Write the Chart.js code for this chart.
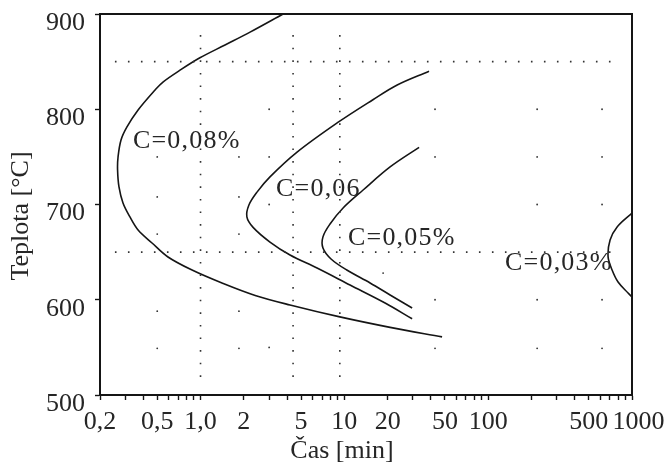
<!DOCTYPE html>
<html>
<head>
<meta charset="utf-8">
<script src="https://cdn.jsdelivr.net/npm/chart.js@4.4.1/dist/chart.umd.min.js"></script>
<style>
  html, body { margin: 0; padding: 0; background: #fff; }
  #c { display: block; }
</style>
</head>
<body>
<canvas id="c" width="670" height="464"></canvas>
<script>
// Time axis [min] (logarithmic) and temperature axis [°C]
const timeTicks = [0.2, 0.5, 1, 2, 5, 10, 20, 50, 100, 500, 1000];
const timeTickLabels = ['0,2', '0,5', '1,0', '2', '5', '10', '20', '50', '100', '500', '\u20021000'];
const tempTicks = [500, 600, 700, 800, 900];

// Transformation start curves for different carbon contents
const c008Time = [3.75, 2.21, 1.48, 0.99, 0.72, 0.548, 0.483, 0.368, 0.308, 0.28, 0.267, 0.265, 0.271, 0.289, 0.323, 0.368, 0.46, 0.594, 0.873, 1.41, 2.4, 4.19, 9.3, 20.8, 47.8];
const c008Temp = [900, 881, 867.5, 854, 841, 828.6, 820.2, 799.2, 781.4, 767.7, 749.9, 736.2, 718.4, 701.6, 686.9, 673.2, 659.6, 644.9, 631.2, 617.6, 604.5, 594.5, 582, 571, 561];

const c006Time = [38.8, 23.3, 15.8, 8.9, 4.69, 3.04, 2.47, 2.17, 2.1, 2.32, 3.04, 4.19, 6.46, 10.95, 19.2, 29.6];
const c006Temp = [840, 825.5, 810, 785.6, 755, 729, 713, 699.5, 687, 676, 660.6, 647, 633.3, 615.5, 596.6, 580];

const c005Time = [33.1, 20.8, 13.5, 9.8, 7.95, 7.1, 7.1, 8.08, 10.4, 15.1, 20.8, 29.6];
const c005Temp = [760, 739.4, 715.2, 696.3, 679.5, 666, 654.3, 642.8, 631.2, 617.6, 605, 591.3];

const c003Time = [1000, 788, 704, 682, 727, 800, 939, 1000];
const c003Temp = [691, 676.4, 662.7, 645, 631.2, 618.6, 607.1, 603];

// Curve captions (text, anchor time, anchor temperature)
const curveLabels = ['C=0,08%', 'C=0,06', 'C=0,05%', 'C=0,03%'];
const labelTimes = [0.339, 3.35, 10.6, 131];
const labelTemps = [759, 709, 657.5, 631];

// Dotted guide lines
const guideTimes = [1, 4.4, 9.3];
const guideTimeSpan = [519, 883];
const guideTemps = [850, 650];
const guideTempSpan = [0.254, 788];

// Loose grid dots
const dotTimes = [3, 42.7, 219, 619, 0.5, 1.85, 3, 42.7, 219, 619, 0.5, 1.85, 3, 219, 619, 0.5, 1.85, 18.6, 42.7, 219, 619, 0.5, 1.85, 0.5, 1.85, 3, 42.7, 219, 619];
const dotTemps = [800, 800, 800, 800, 750, 750, 750, 750, 750, 750, 708, 708, 700, 700, 700, 669, 669, 628, 600, 600, 600, 588, 588, 549, 549, 550, 549, 549, 549];

const SERIF = '"Liberation Serif", "Times New Roman", serif';
const TEXT = '#262626';
const INK = '#151515';

const toXY = (xs, ys) => xs.map((x, i) => ({ x, y: ys[i] }));

function curve(xs, ys) {
  return {
    data: toXY(xs, ys),
    showLine: true,
    borderColor: INK,
    borderWidth: 1.6,
    pointRadius: 0,
    tension: 0.35,
    fill: false
  };
}

const datasets = [];
guideTimes.forEach(t => datasets.push({
  data: toXY([t, t], guideTimeSpan),
  showLine: true, borderColor: '#333', borderWidth: 1.6,
  borderDash: [1.6, 11], pointRadius: 0, tension: 0
}));
guideTemps.forEach(v => datasets.push({
  data: toXY(guideTempSpan, [v, v]),
  showLine: true, borderColor: '#333', borderWidth: 1.6,
  borderDash: [1.6, 11.4], pointRadius: 0, tension: 0
}));
datasets.push({
  data: toXY(dotTimes, dotTemps),
  showLine: false, pointRadius: 0.9, pointBorderWidth: 0,
  pointBackgroundColor: '#333', backgroundColor: '#333'
});
datasets.push(curve(c008Time, c008Temp));
datasets.push(curve(c006Time, c006Temp));
datasets.push(curve(c005Time, c005Temp));
datasets.push(curve(c003Time, c003Temp));

// Minor + major tick positions on the log axis
const logTickValues = [];
for (let e = -1; e <= 3; e++) {
  for (let m = 1; m <= 9; m++) {
    const v = +(m * Math.pow(10, e)).toPrecision(6);
    if (v >= 0.2 - 1e-9 && v <= 1000 + 1e-9) logTickValues.push(v);
  }
}

const isLabelled = v => timeTicks.findIndex(t => Math.abs(v - t) / t < 1e-6);

const framePlugin = {
  id: 'frameAndText',
  afterDatasetsDraw(chart) {
    const { ctx, chartArea: a, scales } = chart;
    ctx.save();
    // top and right frame edges
    ctx.strokeStyle = INK;
    ctx.lineWidth = 2;
    ctx.beginPath();
    ctx.moveTo(a.left, a.top);
    ctx.lineTo(a.right, a.top);
    ctx.lineTo(a.right, a.bottom);
    ctx.stroke();

    // curve captions
    ctx.fillStyle = TEXT;
    ctx.font = '26px ' + SERIF;
    ctx.textAlign = 'left';
    ctx.textBaseline = 'alphabetic';
    if ('letterSpacing' in ctx) ctx.letterSpacing = '1.2px';
    curveLabels.forEach((txt, i) => {
      ctx.fillText(txt, scales.x.getPixelForValue(labelTimes[i]), scales.y.getPixelForValue(labelTemps[i]));
    });
    if ('letterSpacing' in ctx) ctx.letterSpacing = '0px';

    // axis titles
    ctx.textAlign = 'center';
    ctx.textBaseline = 'middle';
    ctx.fillText('Čas [min]', a.left + 242, a.bottom + 56);
    ctx.translate(a.left - 79, a.top + 202);
    ctx.rotate(-Math.PI / 2);
    ctx.fillText('Teplota [°C]', 0, 0);
    ctx.restore();
  }
};

new Chart(document.getElementById('c'), {
  type: 'scatter',
  data: { datasets },
  plugins: [framePlugin],
  options: {
    responsive: false,
    animation: false,
    devicePixelRatio: 1,
    layout: { padding: { left: 0, right: 38, top: 14, bottom: 0 } },
    plugins: { legend: { display: false }, tooltip: { enabled: false } },
    scales: {
      x: {
        type: 'logarithmic',
        min: 0.2,
        max: 1000,
        afterBuildTicks: s => { s.ticks = logTickValues.map(v => ({ value: v })); },
        afterFit: s => { s.height = 69; s.paddingLeft = 0; s.paddingRight = 0; },
        ticks: {
          autoSkip: false,
          maxRotation: 0,
          minRotation: 0,
          padding: 7,
          color: TEXT,
          font: { family: SERIF, size: 26 },
          callback: v => { const i = isLabelled(v); return i >= 0 ? timeTickLabels[i] : ''; }
        },
        grid: { drawOnChartArea: false, drawTicks: true, tickLength: 5, color: INK, tickWidth: 1.4 },
        border: { display: true, color: INK, width: 2 }
      },
      y: {
        type: 'linear',
        min: 500,
        max: 900,
        afterBuildTicks: s => { s.ticks = tempTicks.map(v => ({ value: v })); },
        afterFit: s => { s.width = 100; s.paddingTop = 0; s.paddingBottom = 0; },
        ticks: {
          padding: 10,
          labelOffset: 9,
          color: TEXT,
          font: { family: SERIF, size: 26 }
        },
        grid: { drawOnChartArea: false, drawTicks: true, tickLength: 5, color: INK, tickWidth: 1.4 },
        border: { display: true, color: INK, width: 2 }
      }
    }
  }
});
</script>
</body>
</html>
